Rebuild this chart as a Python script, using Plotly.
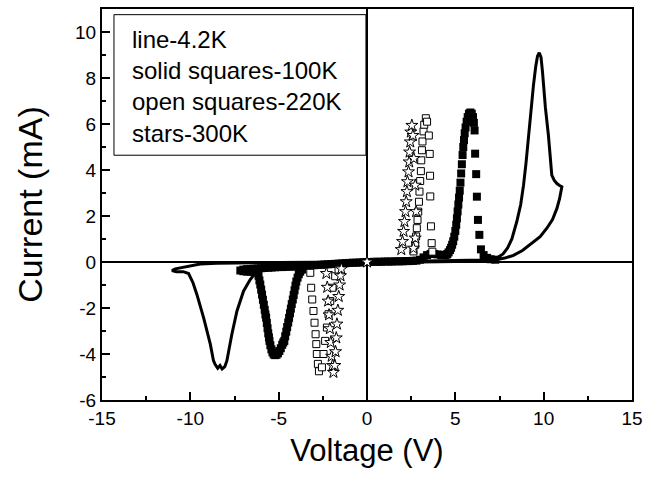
import plotly.graph_objects as go

# ---- measured I-V sweeps (voltage in V, current in mA) ----

# 4.2 K: continuous line, positive loop then negative loop
v_4k = [0, 1, 2, 3, 4, 5, 6, 6.6, 7.0, 7.35, 7.7, 7.95, 8.2, 8.48, 8.7, 8.86, 9.0, 9.14,
        9.3, 9.42, 9.55, 9.65, 9.75, 9.85, 9.93, 9.99, 10.1, 10.27, 10.38, 10.46, 10.6,
        10.75, 10.9, 11.03, 10.9, 10.75, 10.5, 10.18, 9.8, 9.24, 8.8, 8.29, 7.8, 7.3, 6.8,
        6, 5, 4, 3, 2, 1, 0,
        -1, -2, -3, -4, -5, -5.8, -6.23, -6.61, -6.99, -7.36, -7.65, -7.93, -8.05, -8.2,
        -8.32, -8.45, -8.6, -8.69, -8.87, -9.25, -9.63, -9.85, -10.1, -10.4, -10.8, -11.04,
        -10.85, -10.57, -10.2, -9.44, -8.5, -7, -5, -3, -1, 0]
i_4k = [0, 0.01, 0.02, 0.03, 0.04, 0.05, 0.07, 0.09, 0.12, 0.17, 0.35, 0.6, 1.0, 1.76,
        2.5, 3.34, 4.3, 5.5, 6.6, 7.67, 8.5, 8.95, 9.1, 8.9, 8.3, 7.67, 6.7, 5.5, 4.5, 3.78,
        3.55, 3.41, 3.33, 3.27, 2.75, 2.33, 1.85, 1.47, 1.1, 0.75, 0.5, 0.29, 0.17, 0.1,
        0.06, 0.03, 0.02, 0.01, 0.005, 0, 0, 0,
        -0.01, -0.03, -0.06, -0.1, -0.15, -0.2, -0.4, -0.76, -1.27, -2.13, -3.14, -4.29,
        -4.55, -4.65, -4.5, -4.62, -4.45, -4.29, -3.57, -2.42, -1.41, -0.9, -0.5, -0.42,
        -0.42, -0.37, -0.3, -0.26, -0.19, -0.09, -0.05, -0.03, -0.02, -0.01, -0.01, 0]

# 100 K: solid squares
v_100 = [0.0, 0.2, 0.4, 0.6, 0.8, 1.0, 1.2, 1.4, 1.6, 1.8, 2.0, 2.2, 2.4, 2.6, 2.8, 3.0,
         3.2, 3.4, 3.6, 3.8, 4.0, 4.2, 4.4, 4.5,
         4.55, 4.62, 4.7, 4.76, 4.82, 4.88, 4.94, 5.0, 5.05, 5.09, 5.13, 5.17, 5.21, 5.25,
         5.29, 5.33, 5.37, 5.41, 5.45, 5.49, 5.53, 5.58, 5.64, 5.7, 5.77, 5.85, 5.93, 6.0,
         6.05, 6.09, 6.12, 6.18, 6.22, 6.28, 6.36, 6.45, 6.6, 6.8, 7.0, 7.26,
         -0.2, -0.4, -0.6, -0.8, -1.0, -1.2, -1.4, -1.6, -1.8, -2.0, -2.2, -2.4, -2.6, -2.8,
         -3.0, -3.2, -3.4, -3.6, -3.8, -4.0, -4.2, -4.4, -4.6, -4.8, -5.0, -5.2, -5.4, -5.6,
         -5.8, -6.0, -6.2, -6.4, -6.6, -6.8, -7.0, -7.17,
         -7.0, -6.8, -6.6, -6.4, -6.2, -6.14, -6.09, -6.04, -5.99, -5.94, -5.89, -5.84,
         -5.79, -5.75, -5.71, -5.67, -5.63, -5.59, -5.55, -5.52, -5.47, -5.41, -5.35, -5.28,
         -5.2, -5.12, -5.04, -4.96, -4.88, -4.8, -4.74, -4.68, -4.63, -4.57, -4.52, -4.46,
         -4.41, -4.36, -4.31, -4.26, -4.2, -4.15, -4.1, -4.05, -4.0, -3.93, -3.86, -3.78,
         -3.68]
i_100 = [0.0, 0.0, 0.01, 0.01, 0.01, 0.02, 0.02, 0.02, 0.03, 0.03, 0.03, 0.04, 0.04, 0.05,
         0.06, 0.1, 0.2, 0.3, 0.35, 0.35, 0.33, 0.3, 0.3, 0.32,
         0.35, 0.42, 0.52, 0.62, 0.75, 0.9, 1.1, 1.35, 1.62, 1.9, 2.2, 2.5, 2.8, 3.1, 3.45,
         3.85, 4.25, 4.65, 5.0, 5.3, 5.6, 5.85, 6.1, 6.3, 6.45, 6.5, 6.45, 6.3, 6.05, 5.72,
         4.71, 3.82, 2.84, 1.83, 1.18, 0.55, 0.3, 0.18, 0.12, 0.1,
         -0.01, -0.02, -0.03, -0.03, -0.04, -0.05, -0.06, -0.07, -0.08, -0.09, -0.1, -0.11,
         -0.12, -0.13, -0.14, -0.15, -0.16, -0.17, -0.18, -0.19, -0.2, -0.2, -0.21, -0.22,
         -0.22, -0.23, -0.24, -0.25, -0.26, -0.27, -0.28, -0.29, -0.3, -0.31, -0.33, -0.37,
         -0.4, -0.42, -0.42, -0.43, -0.45, -0.6, -0.8, -0.98, -1.2, -1.42, -1.64, -1.86,
         -2.08, -2.28, -2.42, -2.65, -2.88, -3.1, -3.28, -3.43, -3.62, -3.8, -3.93, -4.02,
         -4.05, -4.03, -3.97, -3.87, -3.75, -3.6, -3.5, -3.43, -3.23, -3.03, -2.83, -2.63,
         -2.43, -2.23, -2.03, -1.83, -1.63, -1.43, -1.23, -1.03, -0.85, -0.68, -0.53, -0.42,
         -0.33]

# 220 K: open squares
v_220 = [2.63, 2.73, 2.78, 2.82, 2.86, 2.9, 2.94, 2.97, 3.01, 3.05, 3.07, 3.11, 3.14, 3.2,
         3.24, 3.33, 3.4, 3.5, 3.55, 3.57, 3.58, 3.62, 3.66, 3.7,
         -3.21, -3.16, -3.1, -3.03, -2.97, -2.91, -2.87, -2.84, -2.78, -2.72,
         -2.55, -2.46, -2.37, -2.27, -2.18, -2.08, -1.95, -1.8, -1.61]
i_220 = [0.46, 0.75, 1.11, 1.47, 1.83, 2.19, 2.62, 3.06, 3.52, 3.95, 4.42, 4.86, 5.24,
         5.68, 5.97, 6.25, 6.1, 5.5, 4.7, 3.75, 2.85, 1.55, 0.82, 0.45,
         -0.47, -1.12, -1.63, -2.13, -2.64, -3.14, -3.57, -4.0, -4.43, -4.75,
         -4.58, -4.0, -3.43, -2.85, -2.27, -1.7, -1.12, -0.62, -0.33]

# 300 K: stars
v_300 = [0, 1.94, 2.01, 2.07, 2.12, 2.18, 2.22, 2.26, 2.29, 2.35, 2.39, 2.41, 2.45, 2.48,
         2.54, 2.6, 2.65, 2.73, 2.78, 2.73, 2.63,
         -2.3, -2.25, -2.2, -2.15, -2.1, -2.05, -2.0, -1.95, -1.9,
         -1.82, -1.78, -1.74, -1.7, -1.65, -1.6, -1.55, -1.5, -1.45]
i_300 = [0, 0.54, 0.89, 1.33, 1.76, 2.19, 2.62, 3.06, 3.49, 3.92, 4.35, 4.78, 5.22, 5.65,
         5.94, 5.5, 4.5, 3.34, 2.19, 1.04, 0.6,
         -0.5, -1.1, -1.7, -2.3, -2.9, -3.5, -4.1, -4.5, -4.8,
         -4.5, -3.9, -3.3, -2.7, -2.1, -1.5, -1.0, -0.6, -0.3]

x_ticks = [-15, -10, -5, 0, 5, 10, 15]
x_tick_labels = ["-15", "-10", "-5", "0", "5", "10", "15"]
y_ticks = [-6, -4, -2, 0, 2, 4, 6, 8, 10]
y_tick_labels = ["-6", "-4", "-2", "0", "2", "4", "6", "8", "10"]
legend_lines = ["line-4.2K", "solid squares-100K", "open squares-220K", "stars-300K"]

FONT = "Liberation Sans, Arial, Helvetica, sans-serif"

fig = go.Figure()
fig.add_trace(go.Scatter(x=v_4k, y=i_4k, mode="lines",
                         line=dict(color="black", width=3), showlegend=False))
fig.add_trace(go.Scatter(x=v_100, y=i_100, mode="markers",
                         marker=dict(symbol="square", size=8, color="black",
                                     line=dict(width=0)), showlegend=False))
fig.add_trace(go.Scatter(x=v_220, y=i_220, mode="markers",
                         marker=dict(symbol="square", size=7, color="white",
                                     line=dict(color="black", width=1)), showlegend=False))
fig.add_trace(go.Scatter(x=v_300, y=i_300, mode="markers",
                         marker=dict(symbol="star", size=9, color="white",
                                     line=dict(color="black", width=1)), showlegend=False))

axis_common = dict(
    showline=True, linecolor="black", linewidth=2, mirror=True,
    ticks="inside", ticklen=8, tickwidth=1.5, tickcolor="black",
    showgrid=False, zeroline=True, zerolinecolor="black", zerolinewidth=1.5,
    tickfont=dict(family=FONT, size=19, color="black"),
)
fig.update_xaxes(range=[-15, 15], tickvals=x_ticks, ticktext=x_tick_labels,
                 minor=dict(ticks="inside", ticklen=4, dtick=2.5, tick0=0,
                            tickcolor="black", tickwidth=1.5),
                 title=dict(text="Voltage (V)", font=dict(family=FONT, size=31, color="black"),
                            standoff=12),
                 **axis_common)
fig.update_yaxes(range=[-6, 11], tickvals=y_ticks, ticktext=y_tick_labels,
                 minor=dict(ticks="inside", ticklen=4, dtick=1, tick0=0,
                            tickcolor="black", tickwidth=1.5),
                 title=dict(text="Current (mA)", font=dict(family=FONT, size=34, color="black"),
                            standoff=22),
                 **axis_common)

# key box with the four temperature labels
fig.add_shape(type="rect", xref="paper", yref="paper",
              x0=0.0226, x1=0.498, y0=0.626, y1=0.9855,
              line=dict(color="black", width=1), fillcolor="white", layer="above")
fig.add_annotation(
    xref="paper", yref="paper", x=0.0528, y=0.8015, xanchor="left", yanchor="middle",
    text="<br>".join(legend_lines), align="left", showarrow=False,
    font=dict(family=FONT, size=24, color="black"),
)

fig.update_layout(
    width=660, height=482,
    margin=dict(l=102, r=28, t=7, b=82),
    paper_bgcolor="white", plot_bgcolor="white",
)

fig.write_html("out.html")
